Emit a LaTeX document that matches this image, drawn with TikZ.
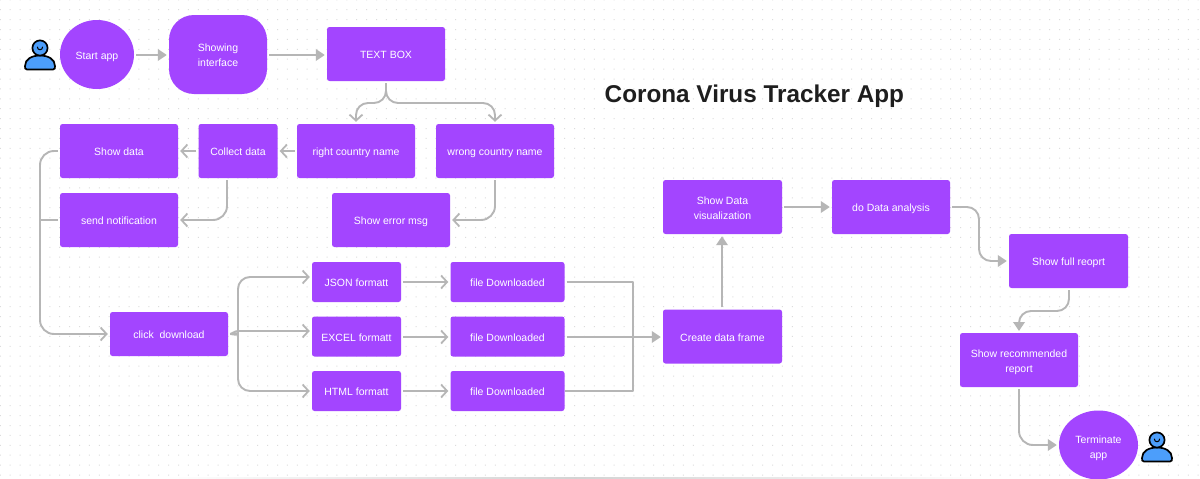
\documentclass[tikz,border=0pt]{standalone}
\usepackage{fontspec}
\setmainfont{Liberation Sans}
\usetikzlibrary{arrows.meta,shapes.geometric}
\definecolor{pur}{HTML}{A345FF}
\definecolor{lin}{HTML}{B6B6B6}
\definecolor{dotc}{HTML}{DCDCDC}
\definecolor{blu}{HTML}{4C9EFB}
\definecolor{ttl}{HTML}{1E1E1E}
\newcommand{\toprule}{\rule{0pt}{12pt}}
\newcommand{\botrule}{\rule[-3pt]{0pt}{3pt}}
\newcommand{\dropby}[1]{\rule{0pt}{#1}}
\tikzset{
  labelled/.style={inner sep=0pt,text=white,align=center,font=\fontsize{10.5}{15}\selectfont,execute at begin node=\toprule,execute at end node=\botrule},
  boxnode/.style={labelled,fill=pur,rounded corners=2.5pt,minimum width=118pt,minimum height=54pt},
  smallbox/.style={boxnode,minimum width=89pt,minimum height=40pt},
  oval/.style={labelled,ellipse,fill=pur},
  conn/.style={draw=lin,line width=1.9pt,line join=round},
  barb/.style={conn,-{Straight Barb[length=6pt,width=13pt,line width=1.8pt]},shorten >=2pt,shorten <=2pt},
  solid tip/.style={conn,-{Triangle[length=9pt,width=11.5pt]},shorten >=2pt,shorten <=2pt},
  plain line/.style={conn,shorten <=2pt},
}
\newcommand{\personicon}[2]{%
  \begin{scope}[shift={(#1,#2)},draw=black,line width=1.7pt,fill=blu]
    \filldraw (-13,21.5) -- (13,21.5) .. controls (15,21.5) and (15,20) .. (15,18) .. controls (15,11) and (8,7.5) .. (0,7.5) .. controls (-8,7.5) and (-15,11) .. (-15,18) .. controls (-15,20) and (-15,21.5) .. (-13,21.5) -- cycle;
    \filldraw (0,0) circle[radius=7.6pt];
    \draw[line width=1pt] (-2.7,-1.2) .. controls (-2.7,2.7) and (2.7,2.7) .. (2.7,-1.2);
  \end{scope}}
\begin{document}
\begin{tikzpicture}[x=1pt,y=-1pt]
\useasboundingbox (0,0) rectangle (1200,479);
\fill[white] (0,0) rectangle (1200,479);
% dotted canvas
\fill[dotc] \foreach \i in {0,...,121} { \foreach \j in {0,...,48} {
  ({0.3+9.9*\i-0.5},{475-9.9*\j-0.5}) rectangle ++(1,1) } };
% bottom edge shadow
\shade[left color=white,right color=white,middle color=lightgray!70] (165,477.6) rectangle (985,479);
% title
\node[anchor=base west,inner sep=0pt,text=ttl,font=\fontsize{24.3}{30}\bfseries\selectfont] (title) at (604.5,102.3) {Corona Virus Tracker App};
% nodes
\node[oval,minimum width=74pt,minimum height=69pt] (start) at (97,54.5) {Start app};
\node[boxnode,minimum width=98pt,minimum height=79pt,rounded corners=25pt] (iface) at (218,54.5) {\dropby{12pt}Showing\\interface};
\node[boxnode] (tb) at (386,54) {TEXT BOX};
\node[boxnode] (sd) at (119,151) {Show data};
\node[boxnode,minimum width=79pt] (cd) at (238,151) {Collect data};
\node[boxnode] (rc) at (356,151) {right country name};
\node[boxnode] (wc) at (495,151) {wrong country name};
\node[boxnode] (sn) at (119,220) {send notification};
\node[boxnode] (se) at (391,220) {Show error msg};
\node[boxnode,minimum height=44pt] (cl) at (169,334) {click\ \ download};
\node[smallbox] (js) at (356.5,282) {JSON formatt};
\node[smallbox] (ex) at (356.5,336.5) {EXCEL formatt};
\node[smallbox] (ht) at (356.5,391) {HTML formatt};
\node[boxnode,minimum width=114pt,minimum height=40pt] (f1) at (507.5,282) {file Downloaded};
\node[boxnode,minimum width=114pt,minimum height=40pt] (f2) at (507.5,336.5) {file Downloaded};
\node[boxnode,minimum width=114pt,minimum height=40pt] (f3) at (507.5,391) {file Downloaded};
\node[boxnode,minimum width=119pt] (df) at (722.5,336.5) {Create data frame};
\node[boxnode,minimum width=119pt] (vz) at (722.5,207) {\dropby{12pt}Show Data\\visualization};
\node[boxnode] (an) at (891,207) {do Data analysis};
\node[boxnode,minimum width=119pt] (fr) at (1068.5,261) {Show full reoprt};
\node[boxnode] (rr) at (1019,360) {\dropby{12pt}Show recommended\\report};
\node[oval,minimum width=79pt,minimum height=69pt] (tm) at (1098.5,445) {\dropby{14pt}Terminate\\app};
% helper coordinates
\coordinate (tbmid) at (386,103);
\coordinate (leftbus) at (40,220);
\coordinate (fork) at (238,325);
\coordinate (jsarm) at (238,277);
\coordinate (htarm) at (238,391);
\coordinate (exarm) at (238,331);
\coordinate (busx) at (633,337);
\coordinate (cdout) at (227,178);
\coordinate (anbend) at (979,207);
\coordinate (frout) at (1069,288);
\coordinate (frmid) at (1069,311);
\coordinate (rrin) at (1019,333);
% connectors
\draw[solid tip] ([yshift=-0.5pt]start.east) -- ([yshift=-0.5pt]iface.west);
\draw[solid tip] ([yshift=-0.5pt]iface.east) -- ([yshift=-1pt]tb.west);
\draw[barb,rounded corners=12pt] (tb.south) -- (tbmid) -| (rc.north);
\draw[barb,rounded corners=12pt] (tb.south) -- (tbmid) -| (wc.north);
\draw[barb] (rc.west) -- (cd.east);
\draw[barb] (cd.west) -- (sd.east);
\draw[barb,rounded corners=14pt] (cdout) |- (sn.east);
\draw[barb,rounded corners=14pt] (wc.south) |- (se.east);
\draw[barb,rounded corners=14pt] (sd.west) -| (leftbus) |- (cl.west);
\draw[plain line] (sn.west) -- (leftbus);
\draw[barb,rounded corners=12pt] (cl.east) .. controls +(6,0) and (238,331) .. (fork) -- (jsarm) -- ([yshift=5pt]js.west);
\draw[barb] (cl.east) .. controls +(3,0) and +(-3,0) .. (exarm) -- ([yshift=5.5pt]ex.west);
\draw[barb,rounded corners=12pt] (cl.east) .. controls +(6,0) and (238,337) .. (238,343) -- (htarm) -- (ht.west);
\draw[barb] (js.east) -- (f1.west);
\draw[barb] ([yshift=-0.5pt]ex.east) -- ([yshift=-0.5pt]f2.west);
\draw[barb] (ht.east) -- (f3.west);
\draw[plain line] (f1.east) -| (busx) |- (f3.east);
\draw[solid tip] ([yshift=-0.5pt]f2.east) -- ([yshift=-0.5pt]df.west);
\draw[solid tip] ([xshift=-0.5pt]df.north) -- ([xshift=-0.5pt]vz.south);
\draw[solid tip] (vz.east) -- (an.west);
\draw[solid tip,rounded corners=12pt] (an.east) -- (anbend) |- (fr.west);
\draw[solid tip,rounded corners=12pt] (frout) -- (frmid) -| (rrin);
\draw[solid tip,rounded corners=14pt] (rr.south) |- (tm.west);
% people
\personicon{40}{48}
\personicon{1157}{440}
\end{tikzpicture}
\end{document}
